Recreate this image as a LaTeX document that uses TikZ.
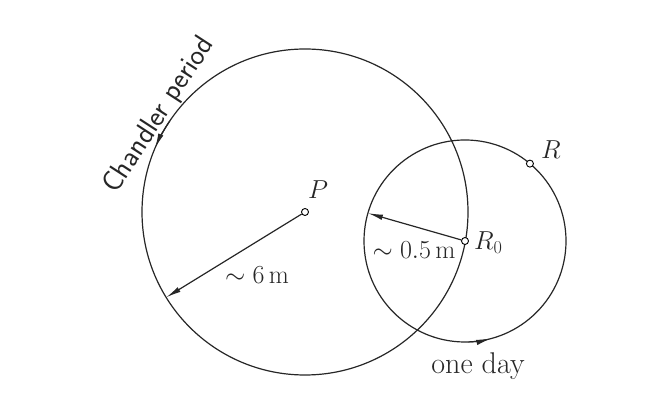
\documentclass[tikz,border=0pt]{standalone}
\usepackage{fix-cm}
\usetikzlibrary{arrows.meta,calc}
\begin{document}
\begin{tikzpicture}[x=1pt,y=1pt,
  curve/.style={line width=1.2pt, black!85},
  tip/.style={-{Latex[length=15pt,width=5.5pt]}},
  dot/.style={circle, draw, fill=white, inner sep=0pt, minimum size=7pt, line width=0.9pt},
  lab/.style={font=\fontsize{26}{30}\selectfont, inner sep=0pt, black!85}]
\useasboundingbox (0,0) rectangle (658,411);
\coordinate (Pc) at (305,199);
\coordinate (R0c) at (465,170);
\coordinate (Rc) at ($(R0c)+(50:101)$);
% orbits
\draw[curve] (Pc) circle[radius=163];
\draw[curve] (R0c) circle[radius=101];
% direction arrows on the orbits
\draw[curve, tip] ($(Pc)+(146:163)$) arc[start angle=146, end angle=157, radius=163];
\draw[curve, tip] ($(R0c)+(272:101)$) arc[start angle=272, end angle=285, radius=101];
% points
\node[dot] (P) at (Pc) {};
\node[dot] (R0) at (R0c) {};
\node[dot] (R) at (Rc) {};
% radius arrows
\coordinate (T6) at ($(Pc)+(211.6:163)$);
\coordinate (T05) at ($(R0c)+(164:101)$);
\draw[curve, tip] (P) -- (T6);
\draw[curve, tip] (R0) -- (T05);
% labels
\node[lab] (Plab) at (318,221) {$P$};
\node[lab] (Rlab) at (551,261) {$R$};
\node[lab, anchor=west] (R0lab) at (474,168) {$R_0$};
\node[lab] (six) at (257,136) {$\sim 6\,\mathrm{m}$};
\node[lab] (half) at (414,161) {$\sim 0.5\,\mathrm{m}$};
\node[lab, font=\fontsize{30}{34}\selectfont] (day) at (478,45) {one day};
\node[lab, font=\sffamily\fontsize{29}{33}\selectfont, rotate=57, anchor=base west] (ch) at (116,216) {Chandler period};
\end{tikzpicture}
\end{document}
